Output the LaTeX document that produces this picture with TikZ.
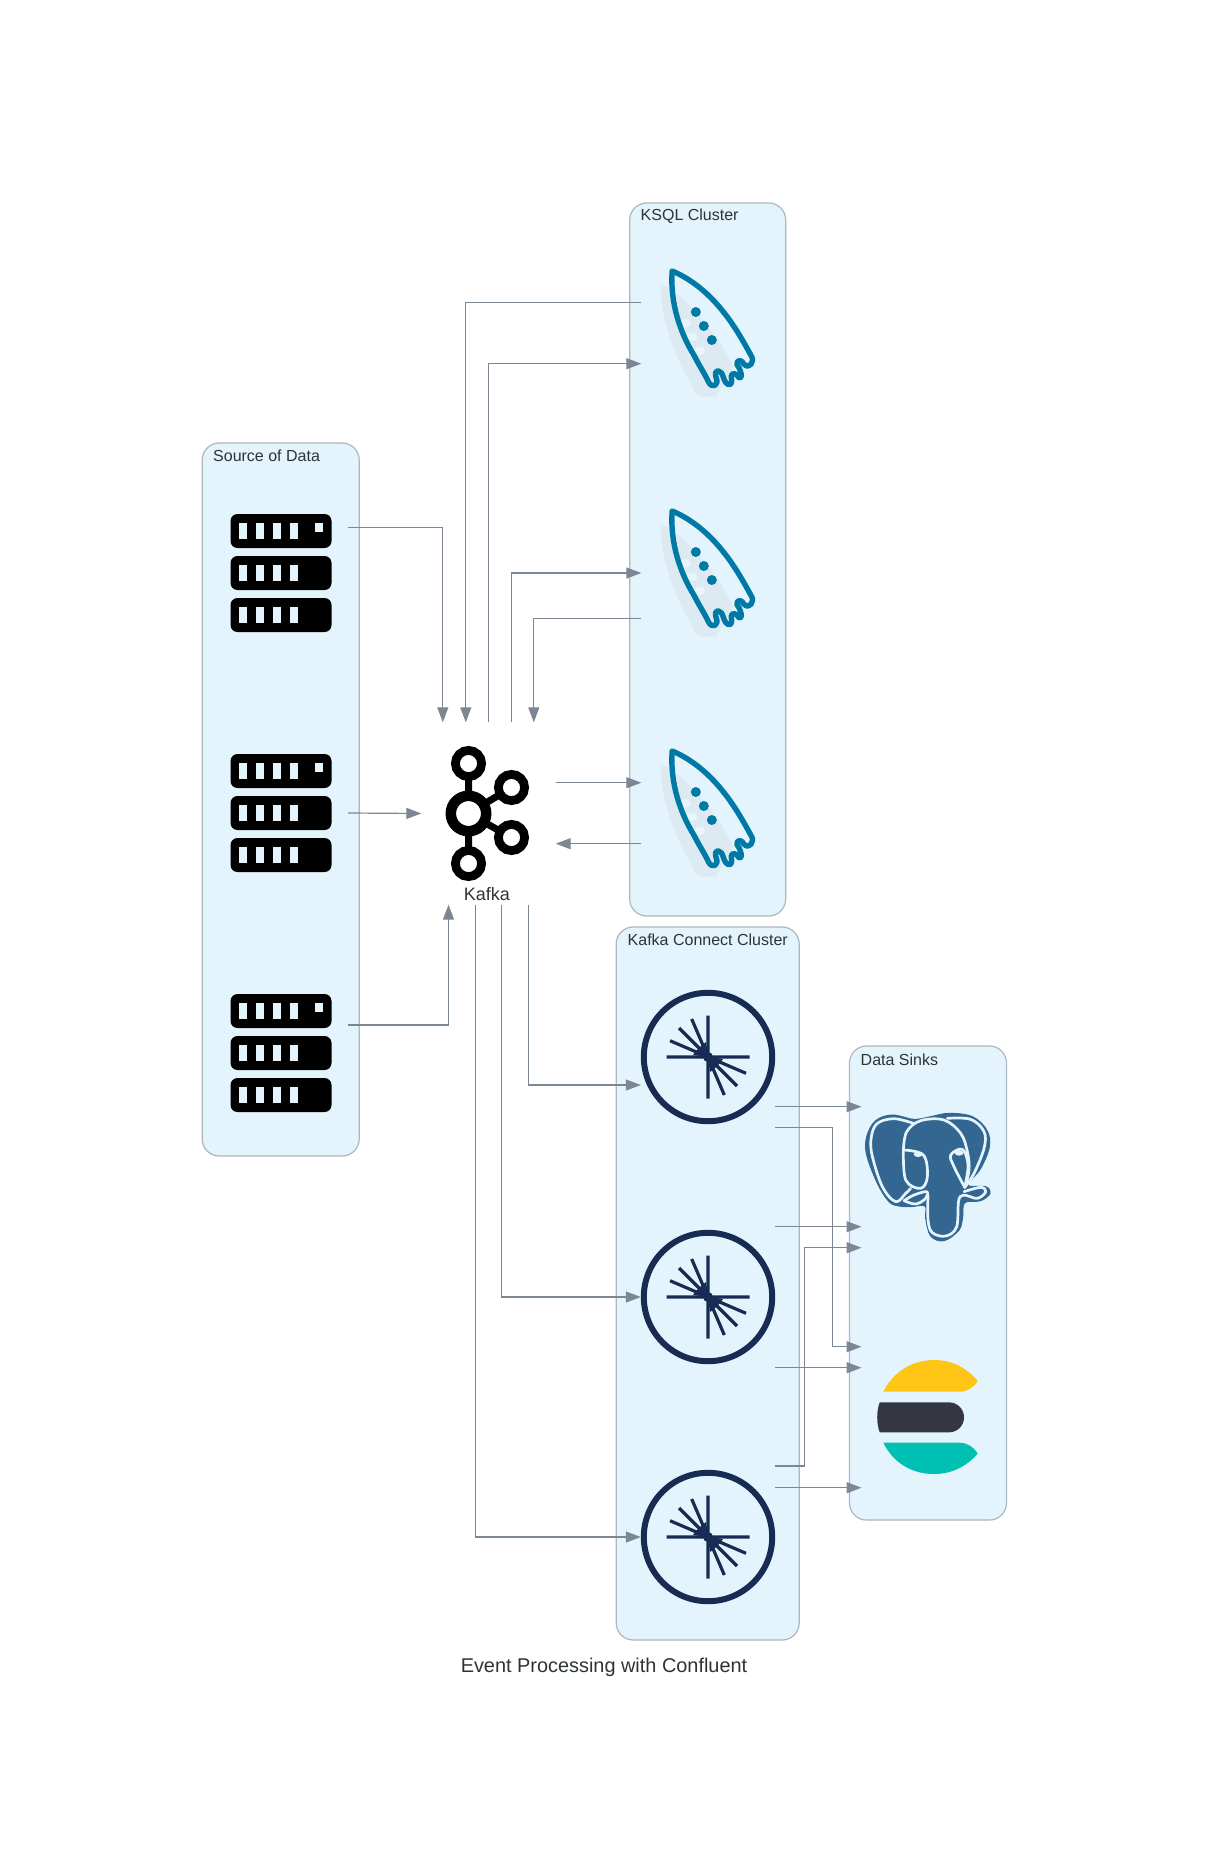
\documentclass[tikz,border=0pt]{standalone}
\usepackage{fontspec}
\setmainfont{Liberation Sans}
\usetikzlibrary{arrows.meta,calc}
\definecolor{clfill}{HTML}{E3F4FD}
\definecolor{cledge}{HTML}{AEB6BE}
\definecolor{conncol}{HTML}{7B8894}
\definecolor{txtcol}{HTML}{2D3436}
\definecolor{rocketcol}{HTML}{0079A6}
\definecolor{rocketsh}{HTML}{DDEAF2}
\definecolor{rockethole}{HTML}{EAF5FB}
\definecolor{pgcol}{HTML}{336791}
\definecolor{ccol}{HTML}{172B53}
\definecolor{esyellow}{HTML}{FEC514}
\definecolor{esdark}{HTML}{343741}
\definecolor{esteal}{HTML}{00BFB3}
\tikzset{
  cluster/.style={draw=cledge,fill=clfill,line width=1.2pt,rounded corners=17pt,inner sep=0pt,minimum width=#1},
  cltext/.style={anchor=west,inner sep=0pt,text=txtcol,font=\fontsize{16}{18}\selectfont},
  iconbox/.style={inner sep=0pt,minimum width=134pt,minimum height=182pt},
  conn/.style={draw=conncol,line width=1.2pt,-{Triangle[length=15pt,width=11pt]}},
  iconrocket/.pic={
    \begin{scope}[x=.3333pt,y=-.3333pt,shift={(-324,-429)}]
      \fill[rocketsh]
        (180,280) .. controls (180,380) and (215,480) .. (265,570)
        .. controls (280,600) and (290,620) .. (305,620)
        -- (345,620) -- (358,600) -- (385,560) -- (398,530)
        .. controls (350,430) and (260,320) .. cycle;
      \fill[rockethole] (255,400) ellipse (16 and 13);
      \fill[rockethole] (275,440) ellipse (16 and 13);
      \fill[rockethole] (298,483) ellipse (16 and 13);
      \draw[rocketcol,line width=5.4pt,line join=round,line cap=round]
        (215,243) .. controls (208,340) and (240,430) .. (280,495)
        .. controls (295,525) and (315,555) .. (325,578)
        .. controls (335,595) and (358,588) .. (346,560)
        .. controls (340,535) and (362,538) .. (368,560)
        .. controls (376,592) and (400,592) .. (392,560)
        .. controls (392,545) and (410,550) .. (414,562)
        .. controls (430,570) and (420,535) .. (410,525)
        .. controls (408,505) and (425,510) .. (430,522)
        .. controls (445,540) and (465,515) .. (452,497)
        .. controls (420,440) and (350,300) .. (215,243) -- cycle;
      \fill[rocketcol] (286,366) circle (15) (310,408) circle (15) (334,450) circle (15);
    \end{scope}
  },
  iconserver/.pic={
    \foreach \yy/\sq in {-59/1,-17/0,25/0}{
      \fill[black,rounded corners=7pt] (-50.5,\yy) rectangle (50.5,\yy+34);
      \foreach \xx in {-42.2,-25.2,-8.2,8.8}
        \fill[clfill] (\xx,\yy+9) rectangle (\xx+8.5,\yy+25);
      \ifnum\sq=1 \fill[clfill] (33.5,\yy+9) rectangle (42,\yy+17.5); \fi
    }
  },
  iconconnect/.pic={
    \draw[ccol,line width=6pt] (0,0) circle (64.2);
    \draw[ccol,line width=3.2pt] (0,-41.5) -- (0,41.5) (-41.5,0) -- (41.5,0)
      (0,0) -- (-38,-16.3) (0,0) -- (-29,-29) (0,0) -- (-16.3,-38)
      (0,0) -- (38,16.3) (0,0) -- (29,29) (0,0) -- (16.3,38);
    \fill[ccol] (0,0) -- (-15,-2) -- (-11,-7) -- (-7,-11) -- (-2,-15) -- cycle;
    \fill[ccol] (0,0) -- (15,2) -- (11,7) -- (7,11) -- (2,15) -- cycle;
    \fill[ccol] (0,0) circle (5);
  },
  iconkafka/.pic={
    \draw[black,line width=7pt] (-20,-50) -- (-20,50) (-20,0) -- (23,-26) (-20,0) -- (23,24);
    \filldraw[draw=black,fill=white,line width=10.5pt] (-20,0) circle (17.7);
    \filldraw[draw=black,fill=white,line width=8.8pt] (-20,-50) circle (13.1);
    \filldraw[draw=black,fill=white,line width=8.8pt] (-20,50) circle (13.1);
    \filldraw[draw=black,fill=white,line width=8.8pt] (23,-26) circle (13.1);
    \filldraw[draw=black,fill=white,line width=8.8pt] (23,24) circle (13.1);
  },
  iconpg/.pic={
    \begin{scope}[x=.3333pt,y=-.3333pt,shift={(-294,-291)}]
      \fill[pgcol,draw=pgcol,line width=1pt,line join=round]
        plot[smooth cycle,tension=.6] coordinates {(185,105)(250,118)(300,110)(355,100)(425,110)(468,150)(476,200)(450,265)(412,315)(465,320)(478,340)(450,362)(402,368)(396,410)(385,450)(340,482)(300,468)(285,415)(283,378)(240,380)(205,378)(175,365)(140,310)(108,225)(108,170)(135,122)};
      \begin{scope}[draw=clfill,line width=2.7pt,line join=round,line cap=round]
        \draw plot[smooth,tension=.6] coordinates {(248,130)(190,116)(140,130)(122,170)(124,225)(155,320)(195,365)(225,340)(240,325)};
        \draw plot[smooth,tension=.6] coordinates {(350,115)(420,118)(460,155)(460,205)(430,280)(402,322)};
        \draw plot[smooth,tension=.6] coordinates {(218,210)(228,155)(270,122)(340,120)(390,160)(410,215)(415,270)(402,322)};
        \draw plot[smooth,tension=.6] coordinates {(218,210)(225,300)(270,325)(290,290)(278,225)(218,210)};
        \draw plot[smooth,tension=.6] coordinates {(402,322)(370,260)(360,225)(395,208)(412,255)(402,322)};
        \draw plot[smooth,tension=.6] coordinates {(220,362)(250,345)(288,335)(285,355)(255,372)(220,362)};
        \draw plot[smooth,tension=.6] coordinates {(292,345)(292,420)(305,458)(345,468)(378,440)(388,350)(440,355)(465,335)(450,322)(400,335)};
        \fill[clfill] (262,223) ellipse (13 and 8);
        \fill[clfill] (385,219) ellipse (13 and 8);
      \end{scope}
    \end{scope}
  },
  iconelastic/.pic={
    \begin{scope}[x=.3333pt,y=-.3333pt,shift={(-294,-291)}]
      \fill[esyellow] (158,215) -- (385,215) .. controls (410,215) and (428,203) .. (441,183)
        .. controls (405,140) and (360,120) .. (310,120) .. controls (240,120) and (185,160) .. cycle;
      \fill[esdark] (147,247) -- (355,247) .. controls (380,247) and (400,267) .. (400,292)
        .. controls (400,317) and (380,337) .. (355,337) -- (147,337) .. controls (137,310) and (137,274) .. cycle;
      \fill[esteal] (158,368) -- (385,368) .. controls (410,368) and (428,380) .. (441,401)
        .. controls (405,442) and (360,462) .. (310,462) .. controls (240,462) and (185,425) .. cycle;
    \end{scope}
  }
}
\begin{document}
\begin{tikzpicture}[x=1pt,y=-1pt]
\useasboundingbox (0,0) rectangle (1208,1876);
% clusters
\node[cluster=157pt,minimum height=713pt] (csrc) at (280.7,799.5) {};
\node[cluster=156pt,minimum height=713pt] (cksql) at (707.7,559.5) {};
\node[cluster=183pt,minimum height=713pt] (cconn) at (707.7,1283.5) {};
\node[cluster=157pt,minimum height=474pt] (csink) at (928,1283) {};
\node[cltext] (tsrc) at (213,456) {Source of Data};
\node[cltext] (tksql) at (640.5,216.5) {KSQL Cluster};
\node[cltext] (tconn) at (627.5,939.5) {Kafka Connect Cluster};
\node[cltext] (tsink) at (860.5,1059.5) {Data Sinks};
% icon nodes
\node[iconbox] (s1) at (281,573) {};
\node[iconbox] (s2) at (281,813) {};
\node[iconbox] (s3) at (281,1053) {};
\node[iconbox] (k1) at (708.5,333) {};
\node[iconbox] (k2) at (708.5,573) {};
\node[iconbox] (k3) at (708.5,813) {};
\node[iconbox] (kafka) at (488.5,813.5) {};
\node[iconbox] (c1) at (708,1057) {};
\node[iconbox] (c2) at (708,1297) {};
\node[iconbox] (c3) at (708,1537) {};
\node[iconbox] (pg) at (928.7,1177) {};
\node[iconbox] (es) at (928.7,1417) {};
\pic at (s1) {iconserver};
\pic at (s2) {iconserver};
\pic at (s3) {iconserver};
\pic at (k1) {iconrocket};
\pic at (k2) {iconrocket};
\pic at (k3) {iconrocket};
\pic at (kafka) {iconkafka};
\pic at (c1) {iconconnect};
\pic at (c2) {iconconnect};
\pic at (c3) {iconconnect};
\pic at (pg) {iconpg};
\pic at (es) {iconelastic};
\node[inner sep=0pt,text=txtcol,font=\fontsize{18}{20}\selectfont] (tkafka) at (486.8,894) {Kafka};
\node[inner sep=0pt,text=txtcol,font=\fontsize{19.9}{22}\selectfont] (title) at (604,1667) {Event Processing with Confluent};
% connectors
\draw[conn] ([yshift=45.3pt]s1.east) -| ([xshift=-45.7pt]kafka.north);
\draw[conn] (s2.east) -- ([xshift=0pt]kafka.west);
\draw[conn] ([yshift=28pt]s3.east) -| ([xshift=-40pt]kafka.south);
\draw[conn] ([yshift=30.3pt]k1.west) -| ([xshift=-22.7pt]kafka.north);
\draw[conn] ([xshift=0pt]kafka.north) |- ([yshift=-30.7pt]k1.west);
\draw[conn] ([xshift=22.7pt]kafka.north) |- (k2.west);
\draw[conn] ([yshift=-45.5pt]k2.west) -| ([xshift=45.3pt]kafka.north);
\draw[conn] ([yshift=30.8pt]kafka.east) -- ([yshift=30.3pt]k3.west);
\draw[conn] ([yshift=-30.7pt]k3.west) -- ([yshift=-30.2pt]kafka.east);
\draw[conn] ([xshift=40pt]kafka.south) |- ([yshift=-28pt]c1.west);
\draw[conn] ([xshift=13pt]kafka.south) |- (c2.west);
\draw[conn] ([xshift=-13.3pt]kafka.south) |- (c3.west);
\draw[conn] ([yshift=-49.7pt]c1.east) -- ([yshift=70.3pt]pg.west);
\draw[conn] ([yshift=-70.7pt]c1.east) -| (832.7,1290) |- ([yshift=70.3pt]es.west);
\draw[conn] ([yshift=70.3pt]c2.east) -- ([yshift=-49.7pt]pg.west);
\draw[conn] ([yshift=-70.7pt]c2.east) -- ([yshift=49.3pt]es.west);
\draw[conn] ([yshift=71pt]c3.east) -| (804.7,1350) |- ([yshift=-70.7pt]pg.west);
\draw[conn] ([yshift=49.3pt]c3.east) -- ([yshift=-70.7pt]es.west);
\end{tikzpicture}
\end{document}
